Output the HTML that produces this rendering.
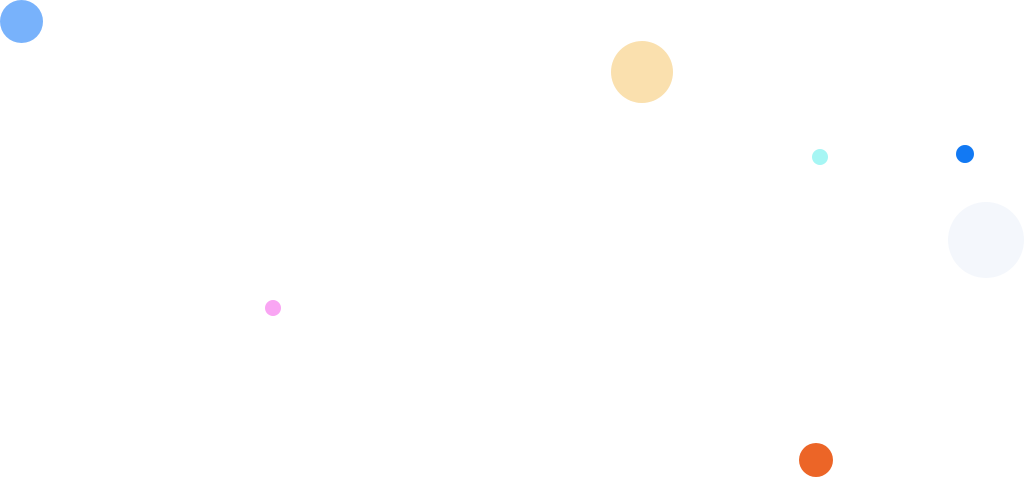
<!DOCTYPE html>
<html><head><meta charset="utf-8"><style>
html,body{margin:0;padding:0;background:#fff;width:1024px;height:477px;overflow:hidden;position:relative}
.c{position:absolute;border-radius:50%}
</style></head><body>
<div class="c" style="left:0;top:0;width:43px;height:43px;background:#78b2fb"></div>
<div class="c" style="left:611px;top:41px;width:62px;height:62px;background:#fae0ae"></div>
<div class="c" style="left:812px;top:149px;width:16px;height:16px;background:#a6f6f4"></div>
<div class="c" style="left:956px;top:145px;width:18px;height:18px;background:#1279f3"></div>
<div class="c" style="left:948px;top:202px;width:76px;height:76px;background:#f4f7fc"></div>
<div class="c" style="left:265px;top:300px;width:16px;height:16px;background:#f9a5f3"></div>
<div class="c" style="left:799px;top:443px;width:34px;height:34px;background:#ec6527"></div>
</body></html>
